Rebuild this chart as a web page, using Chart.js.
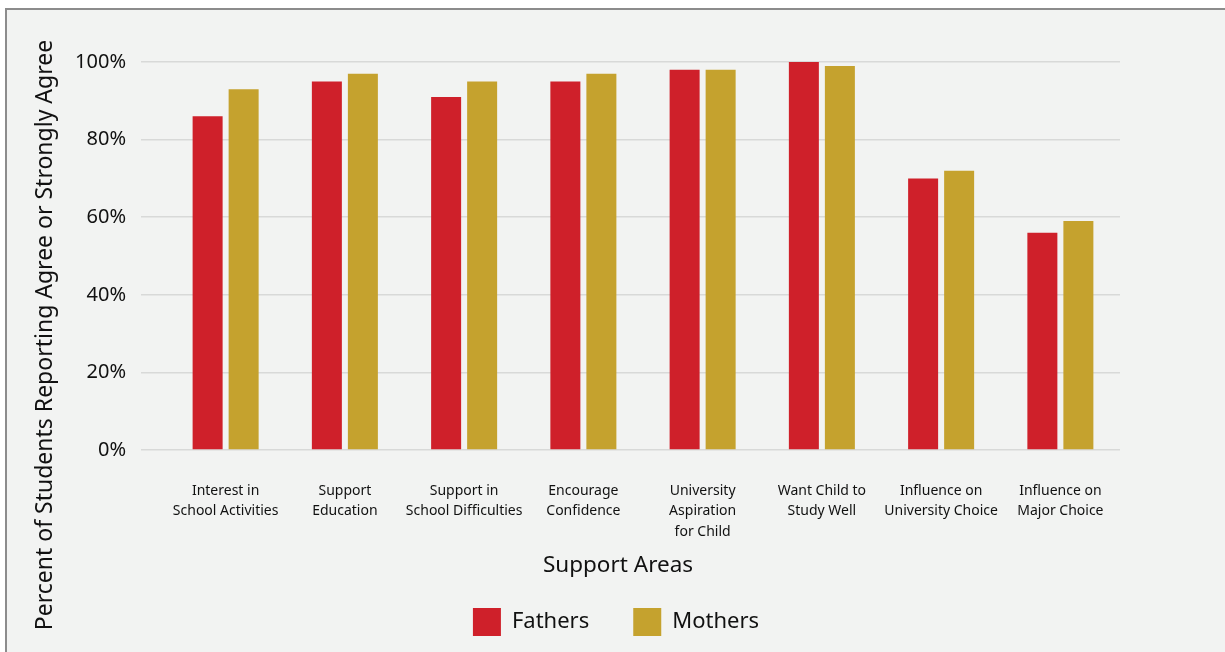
<!DOCTYPE html>
<html>
<head>
<meta charset="utf-8">
<script src="https://cdn.jsdelivr.net/npm/chart.js@4"></script>
<style>
  body { margin: 0; background: #fff; }
  #panel {
    position: absolute; left: 5px; top: 8px;
    width: 1220px; height: 644px;
    background: #f2f3f2;
    border-top: 2px solid #8c8c8c;
    border-left: 2px solid #8c8c8c;
  }
  #wrap { width: 1218px; height: 642px; }
</style>
</head>
<body>
<div id="panel"><div id="wrap"><canvas id="chart"></canvas></div></div>
<script>
const categories = [
  ["Interest in", "School Activities"],
  ["Support", "Education"],
  ["Support in", "School Difficulties"],
  ["Encourage", "Confidence"],
  ["University", "Aspiration", "for Child"],
  ["Want Child to", "Study Well"],
  ["Influence on", "University Choice"],
  ["Influence on", "Major Choice"]
];
const fathers = [86, 95, 91, 95, 98, 100, 70, 56];
const mothers = [93, 97, 95, 97, 98, 99, 72, 59];
const yTicks = [0, 20, 40, 60, 80, 100];

const yTitle = "Percent of Students Reporting Agree or Strongly Agree";
const xTitle = "Support Areas";
const FONT = "'Noto Sans', sans-serif";

// axis titles are centred on the whole figure, not on the plot area
const titlesPlugin = {
  id: "figureTitles",
  afterDraw(chart) {
    const ctx = chart.ctx;
    ctx.save();
    ctx.fillStyle = "#111";
    ctx.textAlign = "center";
    ctx.textBaseline = "middle";
    ctx.font = "22.5px " + FONT;
    ctx.fillText(xTitle, chart.width / 2 + 2, 556);
    ctx.font = "23px " + FONT;
    ctx.translate(38, chart.height / 2 + 4);
    ctx.rotate(-Math.PI / 2);
    ctx.fillText(yTitle, 0, 0);
    ctx.restore();
  }
};

new Chart(document.getElementById("chart").getContext("2d"), {
  type: "bar",
  data: {
    labels: categories,
    datasets: [
      {
        label: "Fathers",
        data: fathers,
        backgroundColor: "#cf202a",
        categoryPercentage: 0.604,
        barPercentage: 0.833
      },
      {
        label: "Mothers",
        data: mothers,
        backgroundColor: "#c5a22e",
        categoryPercentage: 0.604,
        barPercentage: 0.833
      }
    ]
  },
  options: {
    responsive: true,
    maintainAspectRatio: false,
    animation: false,
    layout: { padding: { top: 52, bottom: 6, left: 0, right: 0 } },
    plugins: {
      tooltip: { enabled: false },
      legend: {
        position: "bottom",
        labels: {
          boxWidth: 28,
          boxHeight: 28,
          padding: 44,
          color: "#111",
          font: { family: FONT, size: 22 }
        }
      }
    },
    scales: {
      x: {
        afterFit(scale) { scale.height = 114; },
        grid: { display: false, drawTicks: false },
        border: { display: false },
        ticks: {
          padding: 31,
          color: "#111",
          maxRotation: 0,
          autoSkip: false,
          font: { family: FONT, size: 14, lineHeight: 1.45 }
        }
      },
      y: {
        min: 0,
        max: 100,
        afterFit(scale) { scale.width = 159; },
        afterBuildTicks(scale) { scale.ticks = yTicks.map(v => ({ value: v })); },
        grid: { color: "#d8d9d8", lineWidth: 1.5, tickLength: 25 },
        border: { display: false },
        ticks: {
          padding: 15,
          color: "#111",
          font: { family: FONT, size: 20 },
          callback: v => v + "%"
        }
      },
      y2: {
        position: "right",
        display: true,
        afterFit(scale) { scale.width = 105; },
        grid: { display: false, drawOnChartArea: false },
        border: { display: false },
        ticks: { display: false }
      }
    }
  },
  plugins: [titlesPlugin]
});
</script>
</body>
</html>
